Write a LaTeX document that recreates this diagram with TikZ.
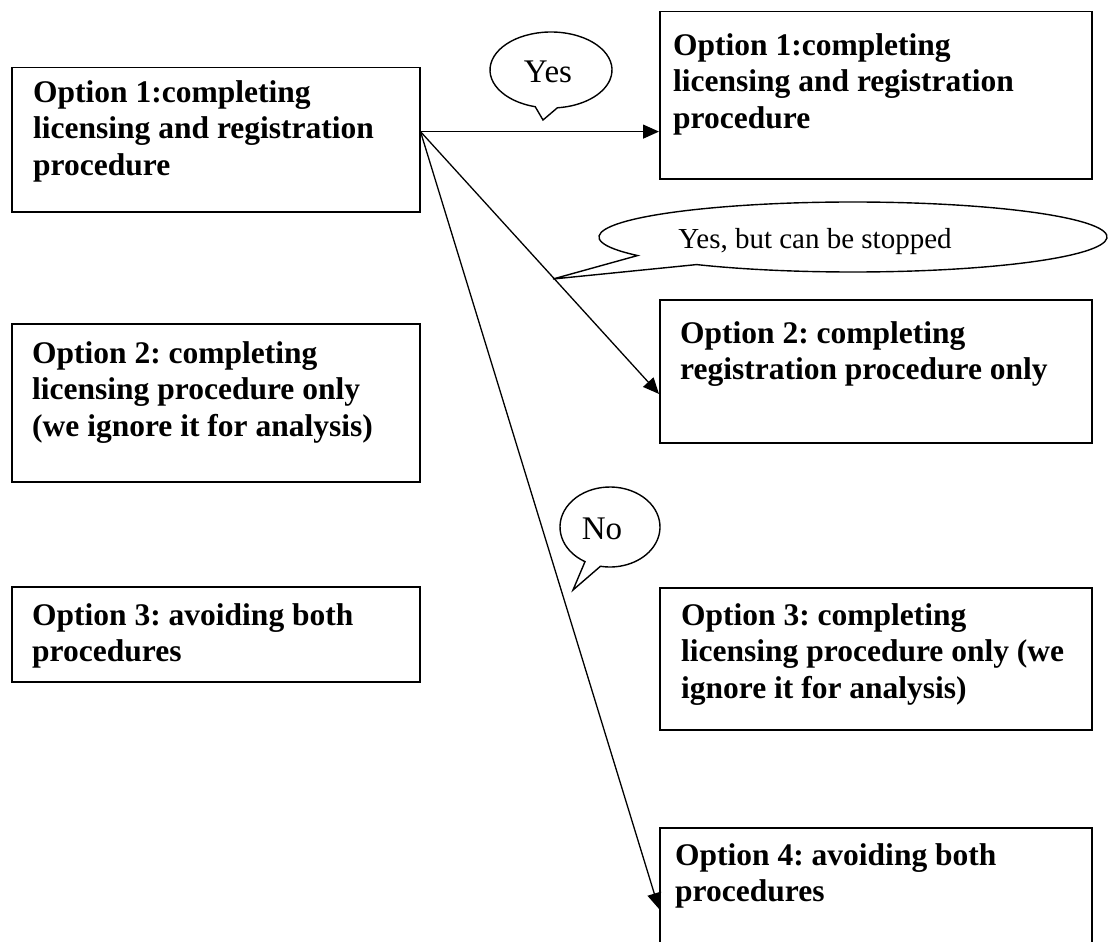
\documentclass[tikz,border=0pt]{standalone}
\usepackage{fontspec}
\setmainfont{Liberation Serif}
\usetikzlibrary{arrows.meta,calc}
\frenchspacing
\begin{document}
\begin{tikzpicture}[x=1pt,y=-1pt,
  box/.style={draw,line width=1.5pt,inner sep=0pt,anchor=north west},
  boxtext/.style={anchor=base west,align=left,inner sep=0pt,font=\bfseries\fontsize{31.5}{36.6}\selectfont},
  bubble/.style={draw,line width=1.4pt,fill=white,line join=miter},
  bubbletext/.style={anchor=base,inner sep=0pt,font=\fontsize{33}{38}\selectfont},
  longbubbletext/.style={anchor=base,inner sep=0pt,font=\fontsize{29}{34}\selectfont},
  arr/.style={line width=1.3pt,-{Triangle[length=16pt,width=14pt]}}]
\useasboundingbox (0,0) rectangle (1109,942);
% boxes
\node[box,minimum width=408pt,minimum height=144pt] (L1) at (11,67) {};
\node[box,minimum width=408pt,minimum height=158pt] (L2) at (11,323) {};
\node[box,minimum width=408pt,minimum height=95pt] (L3) at (11,586) {};
\node[box,minimum width=432pt,minimum height=167pt] (R1) at (659,11) {};
\node[box,minimum width=432pt,minimum height=143pt] (R2) at (659,299) {};
\node[box,minimum width=432pt,minimum height=142pt] (R3) at (659,587) {};
\node[box,minimum width=432pt,minimum height=140pt] (R4) at (659,827) {};
% texts (base = baseline of the last line)
\node[boxtext] (L1t) at (33,175.2) {Option 1:completing\\licensing and registration\\procedure};
\node[boxtext] (L2t) at (32,436.2) {Option 2: completing\\licensing procedure only\\(we ignore it for analysis)};
\node[boxtext] (L3t) at (32,661.6) {Option 3: avoiding both\\procedures};
\node[boxtext] (R1t) at (673,128.2) {Option 1:completing\\licensing and registration\\procedure};
\node[boxtext] (R2t) at (680,379.6) {Option 2: completing\\registration procedure only};
\node[boxtext] (R3t) at (681,698.2) {Option 3: completing\\licensing procedure only (we\\ignore it for analysis)};
\node[boxtext] (R4t) at (675,901.6) {Option 4: avoiding both\\procedures};
% callouts
\draw[bubble] (551,70) ++(105:61 and 38) arc[start angle=105,end angle=444,x radius=61,y radius=38] -- (543,120) -- cycle;
\node[bubbletext] (yes) at (548,82) {Yes};
\draw[bubble] (853,237) ++(148:254 and 35) arc[start angle=148,end angle=488,x radius=254,y radius=35] -- (553,279) -- cycle;
\node[longbubbletext] (yesbut) at (815,248) {Yes, but can be stopped};
\draw[bubble] (610,527) ++(120:50 and 40) arc[start angle=120,end angle=461,x radius=50,y radius=40] -- (573,590) -- cycle;
\node[bubbletext] (no) at (602,539) {No};
% connectors
\coordinate (src) at ($(L1.north east)!0.444!(L1.south east)$);
\draw[arr] (src) -- (R1.west |- src);
\draw[arr] (src) -- ($(R2.north west)!0.657!(R2.south west)$);
\draw[arr] (src) -- ($(R4.north west)!0.579!(R4.south west)$);
\end{tikzpicture}
\end{document}
